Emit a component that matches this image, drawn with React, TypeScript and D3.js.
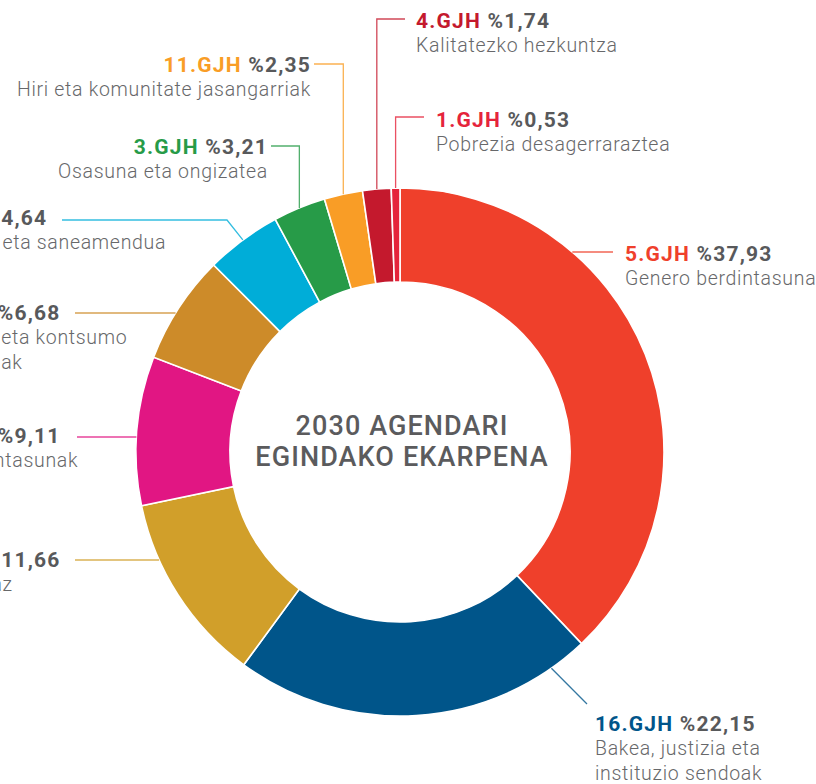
import React from "react";
import * as d3 from "d3";

const goals = ["5", "16", "8", "10", "12", "6", "3", "11", "4", "1"];
const values = [37.93, 22.15, 11.66, 9.11, 6.68, 4.64, 3.21, 2.35, 1.74, 0.53];
const valueLabels = ["%37,93", "%22,15", "%11,66", "%9,11", "%6,68", "%4,64", "%3,21", "%2,35", "%1,74", "%0,53"];
const descriptions: string[][] = [
  ["Genero berdintasuna"],
  ["Bakea, justizia eta", "instituzio sendoak"],
  ["Lan duinaz"],
  ["Desberdintasunak", "murriztea"],
  ["Ekoizpen eta kontsumo", "arduratsuak"],
  ["Ur garbia eta saneamendua"],
  ["Osasuna eta ongizatea"],
  ["Hiri eta komunitate jasangarriak"],
  ["Kalitatezko hezkuntza"],
  ["Pobrezia desagerraraztea"],
];
const colors = ["#ef402b", "#00558a", "#d19f2a", "#e11683", "#cd8b29", "#00add8", "#279b48", "#f99d26", "#c4192d", "#e5243b"];
const titleLines = ["2030 AGENDARI", "EGINDAKO EKARPENA"];

type Layout = {
  x: number; y: number; anchor: "start" | "end";
  kind: "vertical" | "horizontal" | "elbow" | "diag";
  lineY?: number; lineEnd: number; elbow?: [number, number]; angle?: number; to?: [number, number];
};
const layouts: Layout[] = [
  { x: 625, y: 261, anchor: "start", kind: "horizontal", lineY: 252, lineEnd: 613 },
  { x: 595, y: 731, anchor: "start", kind: "diag", angle: 145, to: [587, 704], lineEnd: 0 },
  { x: -87, y: 567, anchor: "start", kind: "horizontal", lineY: 560, lineEnd: 75 },
  { x: -87, y: 443, anchor: "start", kind: "horizontal", lineY: 437, lineEnd: 77 },
  { x: -87, y: 320, anchor: "start", kind: "horizontal", lineY: 313, lineEnd: 75 },
  { x: -87, y: 225, anchor: "start", kind: "elbow", elbow: [227, 220], lineEnd: 62 },
  { x: 268, y: 154, anchor: "end", kind: "vertical", lineY: 146, lineEnd: 271 },
  { x: 311, y: 72, anchor: "end", kind: "vertical", lineY: 64, lineEnd: 314 },
  { x: 416, y: 28, anchor: "start", kind: "vertical", lineY: 19, lineEnd: 405 },
  { x: 436, y: 127, anchor: "start", kind: "vertical", lineY: 117, lineEnd: 424 },
];

const W = 816, H = 784;
const cx = 400, cy = 452;
const outerR = 264, innerR = 170;

export default function App() {
  const data = goals.map((g, i) => ({ goal: g, value: values[i], i }));
  const pie = d3.pie<any>().value((d) => d.value).sort(null);
  const arcs = pie(data);
  const arcGen = d3.arc<any>().innerRadius(innerR).outerRadius(outerR);

  const pointAt = (deg: number, r: number): [number, number] => {
    const a = (deg * Math.PI) / 180;
    return [cx + r * Math.sin(a), cy - r * Math.cos(a)];
  };

  const leader = (a: any, L: Layout) => {
    const midRad = (a.startAngle + a.endAngle) / 2;
    const midDeg = (midRad * 180) / Math.PI;
    const path = d3.path();
    if (L.kind === "vertical") {
      const [px, py] = pointAt(midDeg, outerR);
      path.moveTo(px, py);
      path.lineTo(px, L.lineY!);
      path.lineTo(L.lineEnd, L.lineY!);
    } else if (L.kind === "horizontal") {
      const dy = L.lineY! - cy;
      const dx = Math.sqrt(outerR * outerR - dy * dy);
      const px = L.lineEnd > cx ? cx + dx : cx - dx;
      path.moveTo(px, L.lineY!);
      path.lineTo(L.lineEnd, L.lineY!);
    } else if (L.kind === "elbow") {
      const [px, py] = pointAt(midDeg, outerR);
      path.moveTo(px, py);
      path.lineTo(L.elbow![0], L.elbow![1]);
      path.lineTo(L.lineEnd, L.elbow![1]);
    } else {
      const [px, py] = pointAt(L.angle!, outerR);
      path.moveTo(px, py);
      path.lineTo(L.to![0], L.to![1]);
    }
    return path.toString();
  };

  return (
    <div style={{ position: "absolute", left: 0, top: 0, width: W, height: H, overflow: "hidden", background: "#fff" }}>
      <svg width={W} height={H} style={{ display: "block", overflow: "hidden" }}>
        <g transform={`translate(${cx},${cy})`}>
          {arcs.map((a, i) => (
            <path key={i} d={arcGen(a) as string} fill={colors[i]} stroke="#fff" strokeWidth={1.6} />
          ))}
        </g>
        {arcs.map((a, i) => (
          <path key={"l" + i} d={leader(a, layouts[i])} fill="none" stroke={colors[i]} strokeOpacity={0.8} strokeWidth={1.3} />
        ))}
        {arcs.map((a, i) => {
          const L = layouts[i];
          return (
            <g key={"t" + i} fontFamily="Roboto, 'Noto Sans', sans-serif">
              <text x={L.x} y={L.y} textAnchor={L.anchor} fontSize={21} fontWeight={700} letterSpacing={1.2}>
                <tspan fill={colors[i]}>{goals[i]}.GJH</tspan>
                <tspan fill="#58595b">{" " + valueLabels[i]}</tspan>
              </text>
              {descriptions[i].map((d, j) => (
                <text key={j} x={L.x} y={L.y + 24 + j * 25} textAnchor={L.anchor} fontSize={19.5} fontWeight={300} letterSpacing={0.7} fill="#67686a">
                  {d}
                </text>
              ))}
            </g>
          );
        })}
        <g fontFamily="Roboto, 'Noto Sans', sans-serif" fontWeight={500} fontSize={27} letterSpacing={1.1} fill="#5b5b5d" textAnchor="middle">
          {titleLines.map((t, i) => (
            <text key={i} x={cx + 2} y={435 + i * 31}>{t}</text>
          ))}
        </g>
      </svg>
    </div>
  );
}
